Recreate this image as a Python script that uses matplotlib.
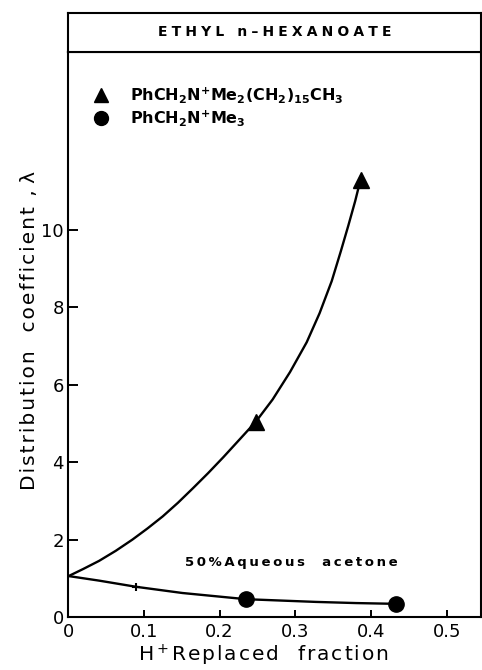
import matplotlib
matplotlib.use("Agg")
import matplotlib.pyplot as plt

# ---- data ----
tri_x = [0.248, 0.386]
tri_y = [5.05, 11.3]
circ_x = [0.235, 0.433]
circ_y = [0.46, 0.34]
cross_x = [0.09]
cross_y = [0.78]

# traced curve points
upper_x = [0.0, 0.02, 0.041, 0.063, 0.085, 0.105, 0.125, 0.145, 0.165, 0.185, 0.205,
           0.227, 0.248, 0.27, 0.293, 0.315, 0.332, 0.348, 0.36, 0.37, 0.379, 0.386]
upper_y = [1.05, 1.24, 1.45, 1.71, 2.0, 2.29, 2.6, 2.95, 3.33, 3.72, 4.13,
           4.6, 5.05, 5.62, 6.33, 7.1, 7.85, 8.68, 9.45, 10.12, 10.75, 11.3]
lower_x = [0.0, 0.041, 0.09, 0.151, 0.235, 0.327, 0.38, 0.433]
lower_y = [1.06, 0.94, 0.78, 0.62, 0.46, 0.39, 0.36, 0.34]

xticks = [0, 0.1, 0.2, 0.3, 0.4, 0.5]
xticklabels = ["0", "0.1", "0.2", "0.3", "0.4", "0.5"]
yticks = [0, 2, 4, 6, 8, 10]
yticklabels = ["0", "2", "4", "6", "8", "10"]

TS = "\u2009"  # thin space
HS = "\u200a"  # hair space


def spaced(s, sep):
    return sep.join(s)


title = "ETHYL n–HEXANOATE"
legend_labels = [r"PhCH$_2$N$^{+}$Me$_2$(CH$_2$)$_{15}$CH$_3$", r"PhCH$_2$N$^{+}$Me$_3$"]
annot = "50%Aqueous  acetone"
xlabel = "Replaced  fraction"
ylabel = "Distribution  coefficient ,"

plt.rcParams['mathtext.default'] = 'regular'

W, H = 482, 670
fig = plt.figure(figsize=(W / 100, H / 100), dpi=100)

left = 68 / W
right = 481 / W
bottom = (H - 617) / H
top_main = (H - 52) / H
top_title = (H - 13) / H

ax = fig.add_axes([left, bottom, right - left, top_main - bottom])
tax = fig.add_axes([left, top_main, right - left, top_title - top_main])

ax.plot(upper_x, upper_y, color="black", lw=1.7, solid_capstyle="round", solid_joinstyle="round")
ax.plot(lower_x, lower_y, color="black", lw=1.7, solid_capstyle="round", solid_joinstyle="round")
ax.plot(tri_x, tri_y, linestyle="none", marker="^", color="black", markersize=11)
ax.plot(circ_x, circ_y, linestyle="none", marker="o", color="black", markersize=11)
ax.plot(cross_x, cross_y, linestyle="none", marker="+", color="black", markersize=6, mew=1.5)

ax.set_xlim(0, 0.545)
ax.set_ylim(0, 14.6)
ax.set_xticks(xticks)
ax.set_xticklabels(xticklabels)
ax.set_yticks(yticks)
ax.set_yticklabels(yticklabels)
ax.tick_params(axis="y", direction="in", length=7, width=1.4, labelsize=13, pad=3)
ax.tick_params(axis="x", direction="in", length=5, width=1.4, labelsize=13, pad=4)
for s in ax.spines.values():
    s.set_linewidth(1.5)

# axis titles (letter-spaced like the reference)
fig.text(264 / W, 1 - 655 / H, r"H$^+$" + spaced(xlabel, HS), fontsize=14.5,
         ha="center", va="center")
fig.text(30 / W, 1 - 330 / H, spaced(ylabel, HS) + " λ", fontsize=14.5, rotation=90,
         ha="center", va="center")

# legend (as drawn in the reference)
ax.plot([0.0435], [13.49], marker="^", color="black", markersize=10, linestyle="none", clip_on=False)
ax.plot([0.0435], [12.9], marker="o", color="black", markersize=10, linestyle="none", clip_on=False)
ax.text(0.082, 13.49, legend_labels[0], fontsize=11.5, fontweight="bold", va="center", ha="left")
ax.text(0.082, 12.9, legend_labels[1], fontsize=11.5, fontweight="bold", va="center", ha="left")

ax.text(0.154, 1.42, spaced(annot, TS), fontsize=9.5, fontweight="bold", va="center", ha="left")

tax.set_xticks([])
tax.set_yticks([])
for s in tax.spines.values():
    s.set_linewidth(1.5)
tax.text(0.5, 0.5, spaced(title, TS + HS), transform=tax.transAxes, ha="center", va="center",
         fontsize=10, fontweight="bold")

fig.savefig("out.png", dpi=100)
